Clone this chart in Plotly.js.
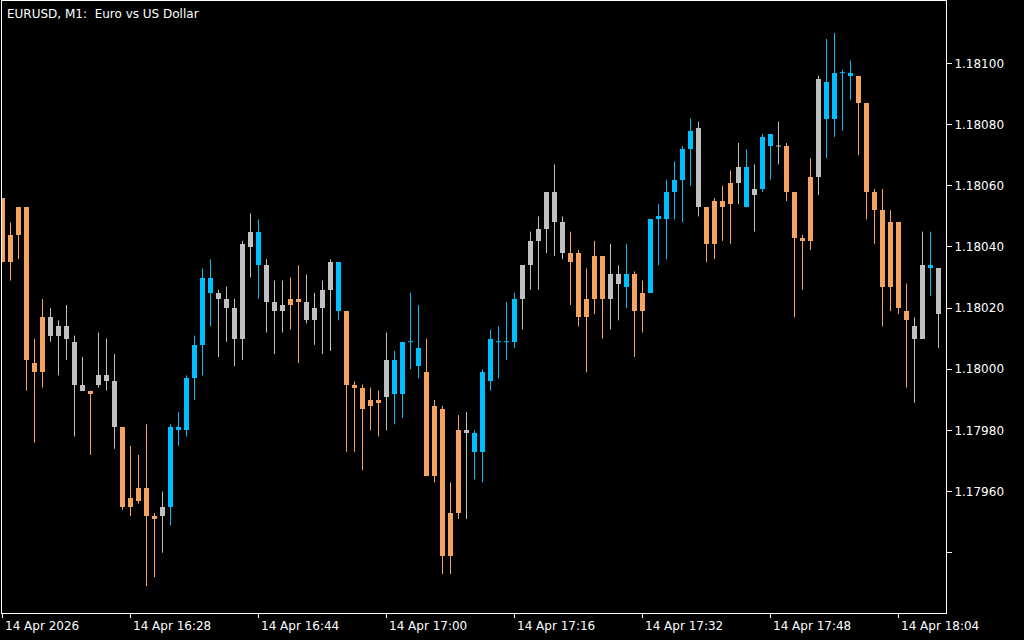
<!DOCTYPE html>
<html><head><meta charset="utf-8">
<script src="https://cdn.plot.ly/plotly-3.0.1.min.js"></script>
<style>html,body{margin:0;padding:0;background:#000;}#chart{width:1024px;height:640px;}</style>
</head><body><div id="chart"></div>
<script>
const symbolTitle = 'EURUSD, M1:\u00a0 Euro vs US Dollar';
const firstBar = '2026-04-14T16:12:00Z';

const open = [1.18056,1.18035,1.18044,1.18053,1.18002,1.17999,1.18017,1.18011,1.18014,1.18009,
1.17995,1.17993,1.17995,1.17998,1.17996,1.17981,1.17955,1.17957,1.17961,1.17952,
1.17952,1.17955,1.17981,1.17980,1.17997,1.18008,1.18030,1.18025,1.18023,1.18020,
1.18010,1.18040,1.18045,1.18034,1.18022,1.18019,1.18021,1.18023,1.18022,1.18016,
1.18020,1.18026,1.18035,1.18019,1.17995,1.17994,1.17988,1.17990,1.17991,1.18003,
1.17992,1.18009,1.18007,1.17999,1.17965,1.17987,1.17939,1.17953,1.17980,1.17979,
1.17973,1.17996,1.18009,1.18009,1.18009,1.18023,1.18034,1.18042,1.18046,1.18058,
1.18048,1.18038,1.18038,1.18017,1.18023,1.18037,1.18023,1.18031,1.18027,1.18031,
1.18019,1.18025,1.18049,1.18049,1.18058,1.18062,1.18072,1.18079,1.18053,1.18041,
1.18055,1.18054,1.18061,1.18066,1.18057,1.18059,1.18077,1.18073,1.18073,1.18058,
1.18043,1.18042,1.18063,1.18094,1.18082,1.18097,1.18097,1.18096,1.18087,1.18058,
1.18052,1.18027,1.18048,1.18019,1.18014,1.18010,1.18034,1.18033];
const high = [1.18056,1.18048,1.18053,1.18053,1.18010,1.18023,1.18020,1.18016,1.18021,1.18011,
1.18004,1.17993,1.18012,1.18010,1.18005,1.17981,1.17975,1.17972,1.17982,1.17953,
1.17960,1.17982,1.17986,1.17998,1.18011,1.18033,1.18036,1.18026,1.18027,1.18023,
1.18042,1.18051,1.18049,1.18036,1.18029,1.18029,1.18030,1.18034,1.18031,1.18025,
1.18029,1.18036,1.18035,1.18019,1.17996,1.17995,1.17994,1.17993,1.18012,1.18006,
1.18009,1.18025,1.18021,1.18010,1.17990,1.17988,1.17963,1.17985,1.17986,1.17980,
1.18000,1.18013,1.18014,1.18022,1.18025,1.18034,1.18045,1.18050,1.18058,1.18067,
1.18050,1.18045,1.18039,1.18033,1.18042,1.18037,1.18041,1.18034,1.18041,1.18032,
1.18029,1.18049,1.18054,1.18062,1.18068,1.18073,1.18082,1.18081,1.18053,1.18056,
1.18060,1.18065,1.18074,1.18072,1.18067,1.18077,1.18077,1.18081,1.18074,1.18058,
1.18044,1.18069,1.18096,1.18108,1.18110,1.18098,1.18101,1.18096,1.18087,1.18059,
1.18059,1.18052,1.18048,1.18028,1.18017,1.18045,1.18045,1.18033];
const low = [1.18035,1.18029,1.18036,1.17993,1.17976,1.17994,1.18009,1.17998,1.18003,1.17978,
1.17993,1.17972,1.17994,1.17993,1.17974,1.17954,1.17952,1.17956,1.17929,1.17932,
1.17940,1.17949,1.17975,1.17978,1.17990,1.17998,1.18014,1.18004,1.18009,1.18001,
1.18003,1.18030,1.18023,1.18012,1.18005,1.18012,1.18013,1.18002,1.18015,1.18008,
1.18005,1.18006,1.18016,1.17973,1.17973,1.17967,1.17980,1.17978,1.17980,1.17982,
1.17984,1.18000,1.17997,1.17965,1.17963,1.17933,1.17933,1.17951,1.17951,1.17964,
1.17963,1.17993,1.17997,1.18003,1.18007,1.18013,1.18026,1.18026,1.18038,1.18037,
1.18036,1.18021,1.18014,1.17999,1.18018,1.18010,1.18013,1.18016,1.18020,1.18004,
1.18012,1.18025,1.18034,1.18036,1.18049,1.18048,1.18060,1.18050,1.18035,1.18036,
1.18042,1.18041,1.18054,1.18053,1.18045,1.18058,1.18062,1.18067,1.18055,1.18017,
1.18026,1.18039,1.18057,1.18069,1.18076,1.18078,1.18088,1.18070,1.18049,1.18041,
1.18014,1.18019,1.18018,1.17994,1.17989,1.18010,1.18024,1.18007];
const close = [1.18035,1.18044,1.18053,1.18003,1.17999,1.18017,1.18011,1.18014,1.18010,1.17995,
1.17993,1.17992,1.17998,1.17996,1.17981,1.17955,1.17958,1.17961,1.17952,1.17951,
1.17955,1.17981,1.17980,1.17997,1.18008,1.18030,1.18025,1.18023,1.18020,1.18010,
1.18041,1.18045,1.18034,1.18022,1.18019,1.18021,1.18023,1.18022,1.18016,1.18020,
1.18026,1.18035,1.18019,1.17995,1.17994,1.17987,1.17990,1.17989,1.18003,1.17992,
1.18009,1.18009,1.18001,1.17965,1.17988,1.17939,1.17953,1.17980,1.17979,1.17973,
1.17999,1.18010,1.18009,1.18009,1.18023,1.18034,1.18042,1.18046,1.18058,1.18048,
1.18038,1.18035,1.18017,1.18023,1.18037,1.18023,1.18031,1.18028,1.18031,1.18019,
1.18025,1.18049,1.18050,1.18058,1.18062,1.18072,1.18078,1.18053,1.18041,1.18055,
1.18053,1.18061,1.18066,1.18053,1.18059,1.18076,1.18073,1.18073,1.18058,1.18043,
1.18042,1.18063,1.18095,1.18082,1.18097,1.18097,1.18096,1.18087,1.18058,1.18052,
1.18027,1.18048,1.18020,1.18016,1.18010,1.18034,1.18033,1.18018];
// candle colouring state: 1 = rising (blue), -1 = falling (orange), 0 = neutral (grey)
const trend = [-1,-1,-1,-1,-1,-1,0,0,0,0,
0,-1,0,0,0,-1,-1,-1,-1,-1,
0,1,1,1,1,1,1,0,0,0,
0,0,1,0,0,0,-1,-1,0,0,
0,0,1,-1,-1,-1,-1,-1,0,1,
1,1,1,-1,-1,-1,-1,-1,0,1,
1,1,1,1,1,0,0,0,0,0,
0,-1,-1,-1,-1,-1,0,0,1,-1,
-1,1,1,1,1,1,1,0,-1,-1,
-1,-1,0,1,0,1,1,0,-1,-1,
-1,-1,0,1,1,1,1,-1,-1,-1,
-1,-1,-1,-1,0,0,1,0];

const priceTicks = [1.1794,1.1796,1.1798,1.1800,1.1802,1.1804,1.1806,1.1808,1.1810];
const priceLabels = ['','1.17960','1.17980','1.18000','1.18020','1.18040','1.18060','1.18080','1.18100'];
const timeTicks = ['16:12','16:28','16:44','17:00','17:16','17:32','17:48','18:04'];
const timeLabels = ['14 Apr 2026','14 Apr 16:28','14 Apr 16:44','14 Apr 17:00','14 Apr 17:16','14 Apr 17:32','14 Apr 17:48','14 Apr 18:04'];

const colorOf = {'1':'#00BFFF','-1':'#F4A460','0':'#C0C0C0'};
const MIN = 60000;
const t0 = Date.parse(firstBar);
const times = open.map((_, i) => t0 + i * MIN);
const bodyW = MIN * 5 / 8;

const traces = [];
[1, -1, 0].forEach(state => {
  const col = colorOf[String(state)];
  const bx = [], bbase = [], bh = [];
  const wx = [], wy = [];
  open.forEach((o, i) => {
    if (trend[i] !== state) return;
    const c = close[i], t = times[i];
    wx.push(t, t, null); wy.push(low[i], high[i], null);
    if (Math.abs(c - o) < 1e-9) {
      wx.push(t - bodyW / 2, t + bodyW / 2, null); wy.push(o, o, null);
    } else {
      bx.push(t); bbase.push(Math.min(o, c)); bh.push(Math.abs(c - o));
    }
  });
  traces.push({type:'scatter', mode:'lines', x:wx, y:wy, line:{color:col, width:1}, hoverinfo:'skip', connectgaps:false});
  traces.push({type:'bar', x:bx, base:bbase, y:bh, width:bodyW, marker:{color:col, line:{width:0}}, hoverinfo:'skip'});
});

const tickMs = timeTicks.map(s => Date.parse('2026-04-14T' + s + ':00Z'));
const half = MIN / 16;

const annotations = [{
  text: symbolTitle, xref:'paper', yref:'paper', x:0, y:1, xanchor:'left', yanchor:'top',
  xshift:3, yshift:-4, showarrow:false, font:{family:'DejaVu Sans', size:12, color:'#fff'}
}];
tickMs.forEach((t, i) => annotations.push({
  text: timeLabels[i], xref:'x', yref:'paper', x:t, y:0, xanchor:'left', yanchor:'middle',
  xshift:0, yshift:-13, showarrow:false, font:{family:'DejaVu Sans', size:12, color:'#fff'}
}));

const layout = {
  width:1024, height:640,
  paper_bgcolor:'#000', plot_bgcolor:'#000',
  margin:{l:2, r:78, t:1, b:27, pad:0},
  showlegend:false, barmode:'overlay', bargap:0,
  font:{family:'DejaVu Sans', size:12, color:'#fff'},
  xaxis:{type:'date', range:[t0 - half, t0 - half + 118 * MIN], showgrid:false, zeroline:false,
    showline:true, mirror:true, linecolor:'#fff', linewidth:1,
    ticks:'outside', ticklen:4, tickwidth:1, tickcolor:'#fff', tickmode:'array', tickvals:tickMs,
    showticklabels:false, fixedrange:true},
  yaxis:{side:'right', range:[1.17920278, 1.18120442], showgrid:false, zeroline:false,
    showline:true, mirror:true, linecolor:'#fff', linewidth:1,
    ticks:'outside', ticklen:5, tickwidth:1, tickcolor:'#fff', tickmode:'array',
    tickvals:priceTicks, ticktext:priceLabels,
    tickfont:{family:'DejaVu Sans', size:12, color:'#fff'}, fixedrange:true},
  annotations: annotations
};

Plotly.newPlot('chart', traces, layout, {staticPlot:true, displayModeBar:false});
</script>
</body></html>
